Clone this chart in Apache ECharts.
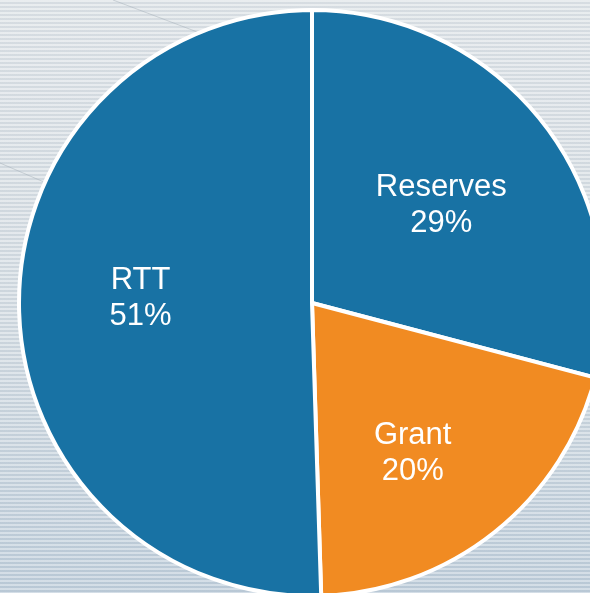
<!DOCTYPE html>
<html>
<head>
<meta charset="utf-8">
<script src="https://cdn.jsdelivr.net/npm/echarts@6/dist/echarts.min.js"></script>
<style>
html, body { margin: 0; padding: 0; }
#chart {
  width: 590px; height: 593px;
  background:
    repeating-linear-gradient(to bottom, rgba(255,255,255,0.32) 0px, rgba(255,255,255,0.32) 2px, rgba(110,130,150,0.08) 2px, rgba(110,130,150,0.08) 4px),
    linear-gradient(to bottom, #dfe4e8 0%, #d5dde3 50%, #bfcedb 100%);
}
</style>
</head>
<body>
<div id="chart"></div>
<script>
const categories = ['Reserves', 'Grant', 'RTT'];
const values = [29.1, 20.4, 50.5];
const colors = ['#1872a4', '#f18b22', '#1872a4'];
const labelOffsets = [[-9, 9], [-8, 14], [3, -7]];

const chart = echarts.init(document.getElementById('chart'), null, { renderer: 'canvas' });

const pieData = categories.map((c, i) => ({ name: c, value: values[i], itemStyle: { color: colors[i] } }));
const labelData = categories.map((c, i) => ({ name: c, value: values[i], label: { offset: labelOffsets[i] } }));

chart.setOption({
  backgroundColor: 'transparent',
  animation: false,
  graphic: [
    { type: 'line', silent: true, z: 0, shape: { x1: 0, y1: 163, x2: 60, y2: 189 }, style: { stroke: 'rgba(160,170,180,0.45)', lineWidth: 1 } },
    { type: 'line', silent: true, z: 0, shape: { x1: 113, y1: 0, x2: 200, y2: 33 }, style: { stroke: 'rgba(160,170,180,0.45)', lineWidth: 1 } }
  ],
  series: [
    {
      type: 'pie',
      center: [312, 303],
      radius: [0, 293],
      startAngle: 90,
      clockwise: true,
      silent: true,
      label: { show: false },
      labelLine: { show: false },
      itemStyle: { borderColor: '#ffffff', borderWidth: 4 },
      data: pieData,
      z: 2
    },
    {
      type: 'pie',
      center: [312, 303],
      radius: [0, 343],
      startAngle: 90,
      clockwise: true,
      silent: true,
      itemStyle: { color: 'rgba(0,0,0,0)', borderWidth: 0 },
      labelLine: { show: false },
      label: {
        show: true,
        position: 'inside',
        color: '#ffffff',
        fontFamily: 'Liberation Sans, Arial, sans-serif',
        fontSize: 31,
        lineHeight: 36,
        formatter: p => p.name + '\n' + Math.round(p.percent) + '%'
      },
      data: labelData,
      z: 3
    }
  ]
});
</script>
</body>
</html>
